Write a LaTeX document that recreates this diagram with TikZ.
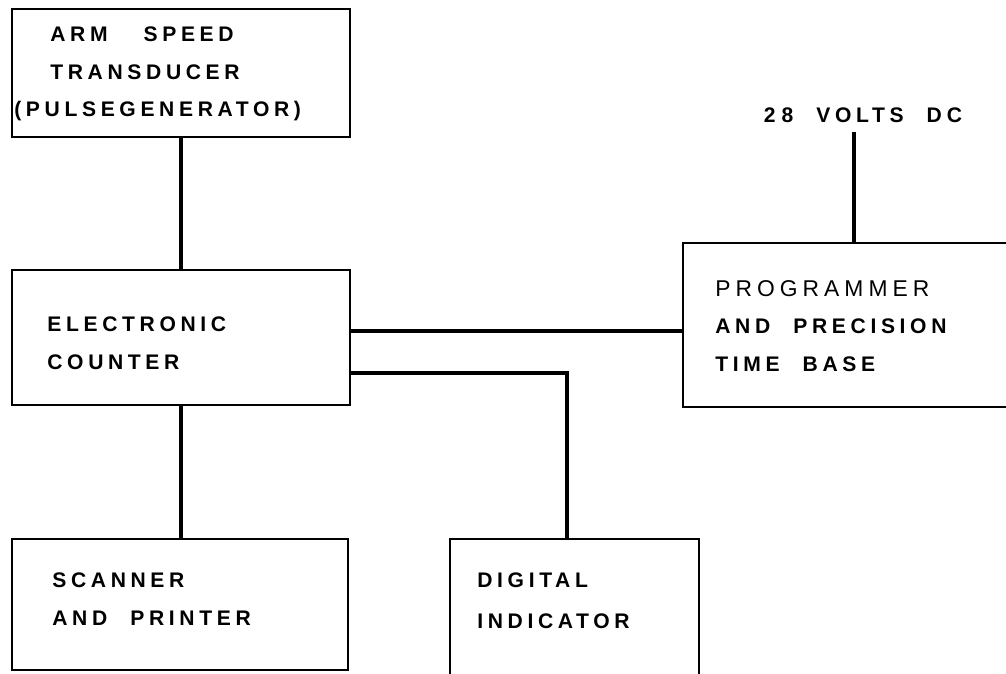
\documentclass[tikz,border=0pt]{standalone}
\usepackage{fontspec}
\setmainfont{Liberation Sans}
\newfontfamily\blockfont[LetterSpace=22,WordSpace=2.2]{Liberation Sans}
\usetikzlibrary{fit}

\begin{document}
\begin{tikzpicture}[x=0.02cm,y=-0.02cm,
  box/.style={draw, line width=1.6pt, inner sep=0pt},
  wire/.style={line width=1.8pt},
  blocktext/.style={anchor=west, inner sep=0pt, align=left,
    font=\blockfont\bfseries\fontsize{12}{21.5}\selectfont}]
\useasboundingbox (0,0) rectangle (1006,673);
\node[box, fit={(12,9) (350,137)}] (tdr) {};
\node[box, fit={(12,270) (350,405)}] (ctr) {};
\node[box, fit={(683,243) (1030,407)}] (prog) {};
\node[box, fit={(12,539) (348,670)}] (prt) {};
\node[box, fit={(450,539) (699,690)}] (ind) {};
\node[blocktext] (tdrtext) at (14,74) {\hspace*{0.72cm}ARM\hspace{0.72cm}SPEED\\\hspace*{0.72cm}TRANSDUCER\\(PULSEGENERATOR)};
\node[blocktext] (ctrtext) at (47,343) {ELECTRONIC\\COUNTER};
\node[blocktext] (progtext) at (715,326) {{\mdseries\fontsize{13}{21.5}\selectfont PROGRAMMER}\\AND PRECISION\\TIME BASE};
\node[blocktext] (prttext) at (52,599) {SCANNER\\AND PRINTER};
\node[blocktext] (indtext) at (477,601) {DIGITAL\\[2pt]INDICATOR};
\node[blocktext, anchor=center, inner sep=5pt] (volts) at (863,115) {2\hspace{0.12cm}8 VOLTS D\hspace{0.1cm}C};
\coordinate (ptap) at (683,331);
\coordinate (itap) at (567,373);
\coordinate (vtap) at (854,0);
\draw[wire] (tdr) -- (ctr);
\draw[wire] (ctr.south) -- (ctr.south |- prt.north);
\draw[wire] (ctr.east |- ptap) -- (prog.west |- ptap);
\draw[wire] (ctr.east |- itap) -| (ind.north -| itap);
\draw[wire] (volts.south -| vtap) -- (prog.north -| vtap);
\end{tikzpicture}
\end{document}
